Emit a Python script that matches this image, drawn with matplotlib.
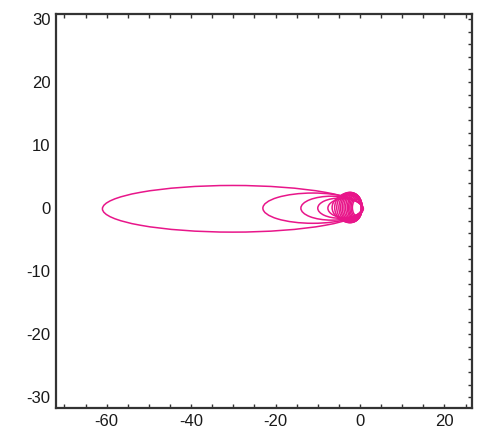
import matplotlib
matplotlib.use("Agg")
import matplotlib.pyplot as plt
from matplotlib.patches import Ellipse
from matplotlib.ticker import MultipleLocator, FixedLocator

# Loop extents (left end, right end, half height, vertical offset)
loop_left = [-61, -23, -14, -10, -7.6, -6.6, -6.0, -5.5, -5.0, -4.6, -4.2, -3.8,
             -3.4, -3.0, -2.7, -2.4, -2.1, -1.8]
loop_right = [0.8, 0.7, 0.6, 0.5, 0.5, 0.5, 0.5, 0.5, 0.5, 0.5, 0.5, 0.5,
              0.4, 0.4, 0.4, 0.3, 0.3, 0.3]
loop_half_h = [3.7, 2.4, 1.9, 1.6, 1.5, 2.0, 2.3, 2.4, 2.4, 2.3, 2.3, 2.2,
               2.1, 2.0, 1.9, 1.7, 1.5, 1.3]
loop_dy = [-0.1, 0.0, 0.0, 0.0, 0.0, 0.1, 0.1, 0.1, 0.1, 0.1, 0.1, 0.1,
           0.1, 0.1, 0.1, 0.1, 0.1, 0.1]

x_ticks = [-60, -40, -20, 0, 20]
y_ticks = [-30, -20, -10, 0, 10, 20, 30]

plt.rcParams['font.family'] = ['Liberation Sans', 'DejaVu Sans']
plt.rcParams['axes.unicode_minus'] = False
fig = plt.figure(figsize=(4.81, 4.33), dpi=100)
ax = fig.add_axes([0.1164, 0.0577, 0.8646, 0.91])

color = '#e8168a'
for l, r, h, dy in zip(loop_left, loop_right, loop_half_h, loop_dy):
    ax.add_patch(Ellipse(((l + r) / 2, dy), r - l, 2 * h, fill=False,
                         edgecolor=color, linewidth=1.1))

ax.set_xlim(-72, 26.5)
ax.set_ylim(-31.7, 30.8)
ax.xaxis.set_major_locator(FixedLocator(x_ticks))
ax.yaxis.set_major_locator(FixedLocator(y_ticks))
ax.xaxis.set_minor_locator(MultipleLocator(5))
ax.yaxis.set_minor_locator(MultipleLocator(2))
ax.tick_params(which='both', direction='in', top=True, right=True, left=False,
               length=3, width=1.0, color='#333333')
ax.tick_params(axis='y', which='both', labelleft=True)
ax.tick_params(which='major', labelsize=12, pad=4, labelcolor='#1a1a1a')
for s in ax.spines.values():
    s.set_linewidth(1.6)
    s.set_color('#333333')

fig.savefig("out.png", dpi=100)
